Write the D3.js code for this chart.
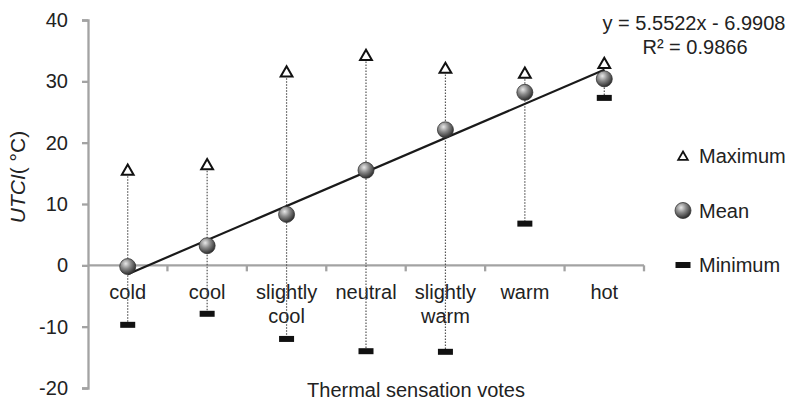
<!DOCTYPE html>
<html>
<head>
<meta charset="utf-8">
<script src="https://cdn.jsdelivr.net/npm/d3@7"></script>
<style>
  body { margin: 0; background: #fff; }
  text { font-family: "Liberation Sans", Arial, sans-serif; fill: #222; }
</style>
</head>
<body>
<div id="chart"></div>
<script>
// data
const categories = ["cold", "cool", "slightly cool", "neutral", "slightly warm", "warm", "hot"];
const maxValues = [15.5, 16.4, 31.5, 34.2, 32.1, 31.3, 32.9];
const meanValues = [-0.2, 3.2, 8.3, 15.5, 22.1, 28.2, 30.4];
const minValues = [-9.7, -7.9, -12.0, -14.0, -14.1, 6.8, 27.3];
const yTicks = [-20, -10, 0, 10, 20, 30, 40];
const fitSlope = 5.5522, fitIntercept = -6.9908;
const legendItems = ["Maximum", "Mean", "Minimum"];

const width = 791, height = 401;
const fontSize = 20;
const svg = d3.select("#chart").append("svg")
  .attr("width", width).attr("height", height);

const x = d3.scaleBand().domain(categories).range([88, 644]).padding(0);
const cx = c => x(c) + x.bandwidth() / 2;
const y = d3.scaleLinear().domain([-20, 40]).range([388, 20]);

const axisColor = "#a3a3a3";

// sphere gradient
const grad = svg.append("defs").append("radialGradient")
  .attr("id", "ball").attr("cx", "38%").attr("cy", "32%").attr("r", "70%");
grad.append("stop").attr("offset", "0%").attr("stop-color", "#e8e8e8");
grad.append("stop").attr("offset", "45%").attr("stop-color", "#8a8a8a");
grad.append("stop").attr("offset", "100%").attr("stop-color", "#2a2a2a");

// y axis (plain hyphen for negatives, like the original)
const yAxis = svg.append("g")
  .attr("transform", "translate(88,0)")
  .call(d3.axisLeft(y).tickValues(yTicks).tickFormat(d => String(d)).tickSize(6).tickPadding(14));
yAxis.select(".domain").attr("stroke", axisColor).attr("stroke-width", 2.3);
yAxis.selectAll(".tick line").attr("stroke", axisColor).attr("stroke-width", 2.3);
yAxis.selectAll(".tick text")
  .attr("font-size", fontSize).attr("fill", "#222")
  .attr("font-family", "Liberation Sans, Arial, sans-serif");

// x axis at zero
const xg = svg.append("g");
xg.append("line")
  .attr("x1", x.range()[0]).attr("x2", x.range()[1])
  .attr("y1", y(0)).attr("y2", y(0))
  .attr("stroke", axisColor).attr("stroke-width", 2.3);
const bounds = categories.map(c => x(c) + x.bandwidth());
xg.selectAll("line.tk").data(bounds).join("line").attr("class", "tk")
  .attr("x1", d => d).attr("x2", d => d)
  .attr("y1", y(0)).attr("y2", y(0) + 6)
  .attr("stroke", axisColor).attr("stroke-width", 2.3);

// category labels
const lab = svg.append("g").selectAll("text").data(categories).join("text")
  .attr("x", d => cx(d)).attr("y", y(0) + 34)
  .attr("text-anchor", "middle").attr("font-size", fontSize);
lab.each(function (d) {
  const words = d.split(" ");
  d3.select(this).selectAll("tspan").data(words).join("tspan")
    .attr("x", cx(d)).attr("dy", (w, i) => i ? 24 : 0).text(w => w);
});

// range dotted lines
svg.append("g").selectAll("line").data(categories).join("line")
  .attr("x1", d => cx(d)).attr("x2", d => cx(d))
  .attr("y1", (d, i) => y(maxValues[i])).attr("y2", (d, i) => y(minValues[i]))
  .attr("stroke", "#555").attr("stroke-width", 1.2).attr("stroke-dasharray", "1.5,1.5");

// fit line
const fit = v => fitSlope * v + fitIntercept;
svg.append("line")
  .attr("x1", cx(categories[0])).attr("y1", y(fit(1)))
  .attr("x2", cx(categories[6])).attr("y2", y(fit(7)))
  .attr("stroke", "#1a1a1a").attr("stroke-width", 2.2);

const tri = d3.symbol().type(d3.symbolTriangle).size(60);

// max markers
svg.append("g").selectAll("path").data(categories).join("path")
  .attr("d", tri)
  .attr("transform", (d, i) => `translate(${cx(d)},${y(maxValues[i]) + 1})`)
  .attr("fill", "#fff").attr("stroke", "#111").attr("stroke-width", 2);

// min markers
svg.append("g").selectAll("rect").data(categories).join("rect")
  .attr("x", d => cx(d) - 7.5).attr("y", (d, i) => y(minValues[i]) - 3)
  .attr("width", 15).attr("height", 6).attr("fill", "#111");

// mean markers
svg.append("g").selectAll("circle").data(categories).join("circle")
  .attr("cx", d => cx(d)).attr("cy", (d, i) => y(meanValues[i]))
  .attr("r", 8).attr("fill", "url(#ball)").attr("stroke", "#333").attr("stroke-width", 0.8);

// axis titles
const yt = svg.append("text")
  .attr("transform", "translate(25,177) rotate(-90)")
  .attr("text-anchor", "middle").attr("font-size", 21);
yt.append("tspan").attr("font-style", "italic").text("UTCI");
yt.append("tspan").text("( °C)");

svg.append("text").attr("x", 416).attr("y", 397)
  .attr("text-anchor", "middle").attr("font-size", fontSize)
  .text("Thermal sensation votes");

// equation
svg.append("text").attr("x", 694).attr("y", 30).attr("text-anchor", "middle")
  .attr("font-size", fontSize).text(`y = ${fitSlope}x - ${Math.abs(fitIntercept)}`);
svg.append("text").attr("x", 695).attr("y", 54).attr("text-anchor", "middle")
  .attr("font-size", fontSize).text("R² = 0.9866");

// legend
const lg = svg.append("g").selectAll("g").data(legendItems).join("g")
  .attr("transform", (d, i) => `translate(683,${156 + i * 54.5})`);
lg.append("text").attr("x", 16).attr("dy", "0.35em").attr("font-size", fontSize).text(d => d);
lg.filter((d, i) => i === 0).append("path")
  .attr("d", d3.symbol().type(d3.symbolTriangle).size(40))
  .attr("transform", "translate(0,1)")
  .attr("fill", "#fff").attr("stroke", "#111").attr("stroke-width", 1.8);
lg.filter((d, i) => i === 1).append("circle")
  .attr("r", 8).attr("fill", "url(#ball)").attr("stroke", "#333").attr("stroke-width", 0.8);
lg.filter((d, i) => i === 2).append("rect")
  .attr("x", -7.5).attr("y", -3).attr("width", 15).attr("height", 6).attr("fill", "#111");
</script>
</body>
</html>
